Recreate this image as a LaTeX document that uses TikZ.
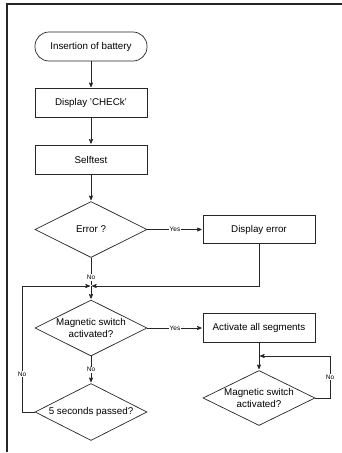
\documentclass[tikz,border=0pt]{standalone}
\usepackage{fontspec}
\setmainfont{Liberation Sans}
\usetikzlibrary{arrows,shapes.geometric}

\begin{document}
\begin{tikzpicture}[->,>=stealth',shorten >=1pt,x=1pt,y=1pt,
line width=0.7pt,draw=black!85,
font=\fontsize{9.8}{11.6}\selectfont,
proc node/.style={rectangle,draw,-,minimum width=112pt,minimum height=29pt,inner sep=0pt},
term node/.style={proc node,rounded corners=14pt},
cond node/.style={diamond,draw,-,aspect=2,inner sep=0pt,minimum width=112pt,minimum height=56pt,align=center},
lbl/.style={font=\fontsize{6.5}{7}\selectfont,fill=white,inner sep=0.8pt}]
\useasboundingbox (0,0) rectangle (342,-453);
\draw[-,line width=1.2pt] (342,-4) -- (7,-4) -- (7,-453);
\node[term node] (start) at (91,-46.5) {Insertion of battery};
\node[proc node] (check) [below of=start,node distance=56.5pt] {Display 'CHECk'};
\node[proc node] (selftest) [below of=check,node distance=56.5pt] {Selftest};
\node[cond node] (error) [below of=selftest,node distance=70pt] {Error ?};
\node[proc node,minimum height=28pt] (showerr) [right of=error,node distance=168pt] {Display error};
\coordinate[below of=error,node distance=56.5pt] (join);
\node[cond node] (magA) [below of=error,node distance=98.5pt] {Magnetic switch\\activated?};
\node[cond node,minimum height=57pt] (fivesec) [below of=magA,node distance=84pt] {5 seconds passed?};
\node[proc node] (segs) [right of=magA,node distance=168pt] {Activate all segments};
\node[cond node,minimum height=55pt] (magB) [below of=segs,node distance=70pt] {Magnetic switch\\activated?};
\coordinate (leftrail) at (22,-286);
\coordinate (loopjoin) at (259,-356);
\coordinate (loopright) at (330,-356);
\path[every node/.style=lbl]
(start) edge (check)
(check) edge (selftest)
(selftest) edge (error)
(error) edge node {Yes} (showerr)
(error) edge[-] node[pos=0.7] {No} (join)
(join) edge (magA)
(magA) edge node {Yes} (segs)
(magA) edge node {No} (fivesec)
(segs) edge (magB);
\draw (showerr.south) |- (join);
\draw (fivesec.west) -- (fivesec.west -| leftrail) -- node[lbl,pos=0.3] {No} (leftrail) -- (join);
\draw (magB.east) -| node[lbl,pos=0.75] {No} (loopright) -- (loopjoin);
\end{tikzpicture}
\end{document}
